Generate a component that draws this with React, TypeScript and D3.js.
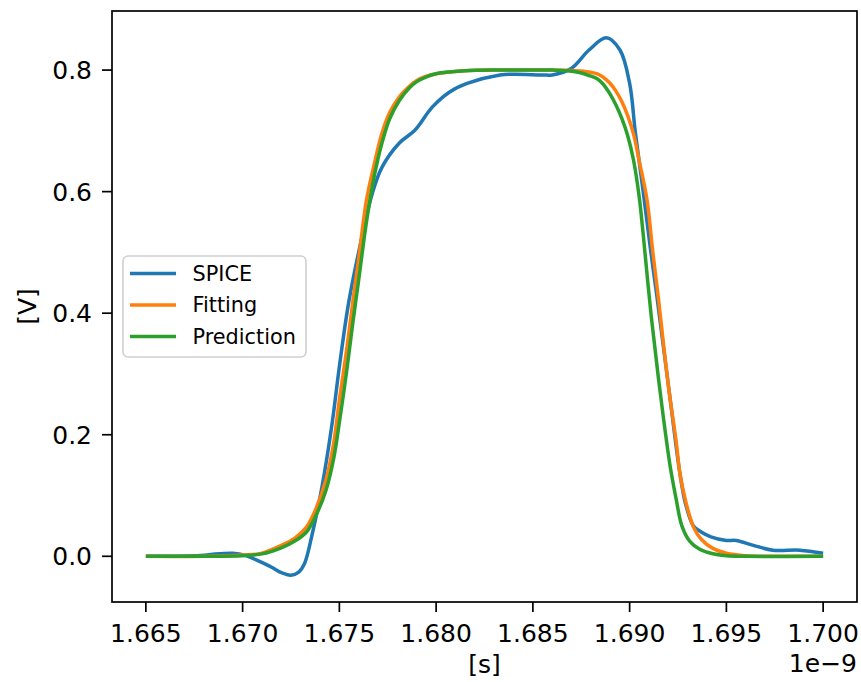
import React from "react";
import * as d3 from "d3";

// time in units of 1e-9 s
const spiceT = [1.6650,1.6660,1.6675,1.6688,1.6695,1.6701,1.6707,1.6715,1.6720,1.6725,1.6729,1.6732,1.6736,1.6741,1.6746,1.6750,1.6755,1.6762,1.6767,1.6772,1.6781,1.6789,1.6798,1.6807,1.6816,1.6833,1.6840,1.6855,1.6860,1.6870,1.6879,1.6888,1.6895,1.6900,1.6903,1.6907,1.6911,1.6914,1.6921,1.6926,1.6929,1.6933,1.6937,1.6942,1.6950,1.6955,1.6964,1.6974,1.6988,1.7000];
const spiceV = [0,0,0.001,0.004,0.005,0.002,-0.006,-0.018,-0.027,-0.031,-0.026,-0.012,0.037,0.114,0.213,0.312,0.421,0.530,0.597,0.640,0.680,0.701,0.739,0.764,0.778,0.792,0.793,0.792,0.792,0.803,0.833,0.853,0.833,0.778,0.696,0.600,0.500,0.430,0.257,0.136,0.085,0.050,0.040,0.032,0.026,0.026,0.018,0.010,0.010,0.005];

const fitT = [1.6650,1.6680,1.6700,1.6710,1.6720,1.6727,1.6733,1.6738,1.6743,1.6747,1.6750,1.6754,1.6757,1.6760,1.6764,1.6768,1.6772,1.6776,1.6781,1.6786,1.6790,1.6795,1.6800,1.6807,1.6815,1.6830,1.6860,1.6872,1.6879,1.6883,1.6886,1.6890,1.6893,1.6896,1.6899,1.6902,1.6905,1.6909,1.6912,1.6915,1.6918,1.6921,1.6924,1.6926,1.6929,1.6933,1.6937,1.6943,1.6950,1.6960,1.6980,1.7000];
const fitV = [0,0,0.002,0.005,0.018,0.030,0.048,0.079,0.125,0.185,0.257,0.345,0.420,0.490,0.586,0.645,0.696,0.730,0.756,0.773,0.783,0.790,0.794,0.797,0.799,0.800,0.800,0.799,0.797,0.794,0.789,0.778,0.765,0.748,0.725,0.695,0.650,0.586,0.500,0.421,0.335,0.257,0.190,0.136,0.090,0.048,0.028,0.013,0.005,0.001,0,0];

const predT = [1.6650,1.6680,1.6700,1.6710,1.6720,1.6727,1.6733,1.6738,1.6743,1.6747,1.6750,1.6754,1.6757,1.6760,1.6764,1.6768,1.6772,1.6776,1.6781,1.6786,1.6790,1.6795,1.6800,1.6807,1.6815,1.6830,1.6860,1.6868,1.6874,1.6879,1.6883,1.6886,1.6890,1.6893,1.6896,1.6899,1.6902,1.6905,1.6907,1.6911,1.6915,1.6918,1.6921,1.6924,1.6927,1.6931,1.6936,1.6942,1.6950,1.6960,1.7000];
const predV = [0,0,0.001,0.004,0.014,0.025,0.040,0.068,0.108,0.160,0.220,0.310,0.385,0.455,0.550,0.625,0.680,0.720,0.750,0.770,0.781,0.789,0.794,0.797,0.799,0.800,0.800,0.799,0.796,0.791,0.786,0.778,0.760,0.742,0.720,0.692,0.652,0.590,0.530,0.400,0.290,0.215,0.147,0.095,0.050,0.025,0.012,0.005,0.001,0,0];

const xTicks = [1.665, 1.670, 1.675, 1.680, 1.685, 1.690, 1.695, 1.700];
const yTicks = [0.0, 0.2, 0.4, 0.6, 0.8];
const seriesNames = ["SPICE", "Fitting", "Prediction"];
const seriesColors = ["#1f77b4", "#ff7f0e", "#2ca02c"];

const W = 861, H = 682;
const M = { left: 112, right: 857, top: 11, bottom: 602 };

export default function App() {
  const series = [
    { t: spiceT, v: spiceV },
    { t: fitT, v: fitV },
    { t: predT, v: predV },
  ];
  const allT = series.flatMap((s) => s.t);
  const allV = series.flatMap((s) => s.v);
  const [tMin, tMax] = d3.extent(allT) as [number, number];
  const [vMin, vMax] = d3.extent(allV) as [number, number];
  const tPad = (tMax - tMin) * 0.05;
  const vPad = (vMax - vMin) * 0.05;
  const x = d3.scaleLinear().domain([tMin - tPad, tMax + tPad]).range([M.left, M.right]);
  const y = d3.scaleLinear().domain([vMin - vPad, vMax + vPad]).range([M.bottom, M.top]);

  const line = d3
    .line<[number, number]>()
    .x((d) => x(d[0]))
    .y((d) => y(d[1]))
    .curve(d3.curveCatmullRom.alpha(0.5));

  const font = "DejaVu Sans";
  const tickLen = 10;

  const lx = 123, ly = 256, lw = 183, lh = 101;
  const legendRows = [273.5, 305, 336.5];

  return (
    <svg
      width={W}
      height={H}
      style={{ position: "absolute", left: 0, top: 0, background: "#fff" }}
      fontFamily={font}
    >
      <rect x={0} y={0} width={W} height={H} fill="#fff" />
      <defs>
        <clipPath id="plotclip">
          <rect x={M.left} y={M.top} width={M.right - M.left} height={M.bottom - M.top} />
        </clipPath>
      </defs>
      <g clipPath="url(#plotclip)">
        {series.map((s, i) => (
          <path
            key={i}
            d={line(s.t.map((t, k) => [t, s.v[k]] as [number, number])) || ""}
            fill="none"
            stroke={seriesColors[i]}
            strokeWidth={3.5}
            strokeLinejoin="round"
            strokeLinecap="butt"
          />
        ))}
      </g>
      {/* spines */}
      <rect
        x={M.left}
        y={M.top}
        width={M.right - M.left}
        height={M.bottom - M.top}
        fill="none"
        stroke="#000"
        strokeWidth={1.7}
      />
      {/* x ticks */}
      {xTicks.map((t) => (
        <g key={t}>
          <line x1={x(t)} x2={x(t)} y1={M.bottom} y2={M.bottom + tickLen} stroke="#000" strokeWidth={1.7} />
          <text x={x(t)} y={641.5} textAnchor="middle" fontSize={25} fill="#000">
            {t.toFixed(3)}
          </text>
        </g>
      ))}
      {/* y ticks */}
      {yTicks.map((v) => (
        <g key={v}>
          <line x1={M.left - tickLen} x2={M.left} y1={y(v)} y2={y(v)} stroke="#000" strokeWidth={1.7} />
          <text x={92} y={y(v)} dy="0.36em" textAnchor="end" fontSize={25} fill="#000">
            {v.toFixed(1)}
          </text>
        </g>
      ))}
      <text x={(M.left + M.right) / 2} y={673} textAnchor="middle" fontSize={25} fill="#000">
        [s]
      </text>
      <text x={857} y={672} textAnchor="end" fontSize={25} fill="#000">
        1e−9
      </text>
      <text
        transform={`translate(36,${(M.top + M.bottom) / 2}) rotate(-90)`}
        textAnchor="middle"
        fontSize={25}
        fill="#000"
      >
        [V]
      </text>
      {/* legend */}
      <rect x={lx} y={ly} width={lw} height={lh} rx={5} ry={5} fill="#fff" fillOpacity={0.8} stroke="#d0d0d0" strokeWidth={1.6} />
      {seriesNames.map((n, i) => (
        <g key={n}>
          <line x1={130} x2={176} y1={legendRows[i]} y2={legendRows[i]} stroke={seriesColors[i]} strokeWidth={3.5} />
          <text x={192.5} y={legendRows[i]} dy="0.36em" fontSize={20.8} fill="#000">
            {n}
          </text>
        </g>
      ))}
    </svg>
  );
}
